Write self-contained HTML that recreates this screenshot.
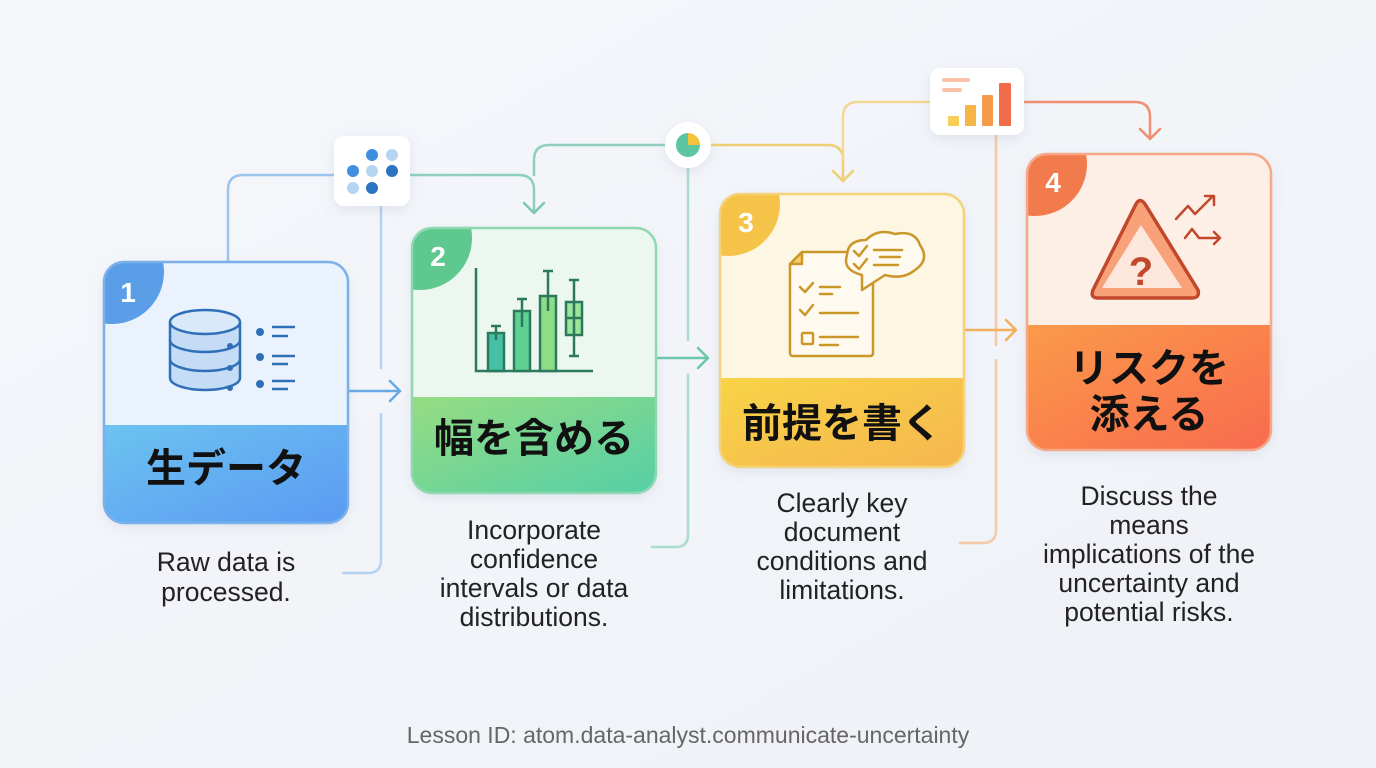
<!DOCTYPE html>
<html><head><meta charset="utf-8"><style>
html,body{margin:0;padding:0;width:1376px;height:768px;overflow:hidden;background:#f3f5f9;}
svg{display:block}
text{font-family:"Liberation Sans","Noto Sans CJK JP",sans-serif;}
</style></head><body>
<svg width="1376" height="768" viewBox="0 0 1376 768" xmlns="http://www.w3.org/2000/svg">
<defs>
<linearGradient id="bg" x1="0" y1="0" x2="1" y2="1"><stop offset="0" stop-color="#f5f7fb"/><stop offset="1" stop-color="#eef1f6"/></linearGradient>
<linearGradient id="g1" x1="0" y1="0" x2="1" y2="1"><stop offset="0" stop-color="#6cc3f0"/><stop offset="1" stop-color="#5a9af3"/></linearGradient>
<linearGradient id="g2" x1="0" y1="0" x2="1" y2="1"><stop offset="0" stop-color="#96dc82"/><stop offset="1" stop-color="#55cfa6"/></linearGradient>
<linearGradient id="g3" x1="0" y1="0" x2="1" y2="1"><stop offset="0" stop-color="#f8d446"/><stop offset="1" stop-color="#f5b650"/></linearGradient>
<linearGradient id="g4" x1="0" y1="0" x2="1" y2="1"><stop offset="0" stop-color="#fb9a4a"/><stop offset="1" stop-color="#f86b4e"/></linearGradient>
<clipPath id="c1"><rect x="104" y="262" width="244" height="261" rx="20"/></clipPath>
<clipPath id="c2"><rect x="412" y="228" width="244" height="265" rx="20"/></clipPath>
<clipPath id="c3"><rect x="720" y="194" width="244" height="273" rx="20"/></clipPath>
<clipPath id="c4"><rect x="1027" y="154" width="244" height="296" rx="20"/></clipPath>
<filter id="sh" x="-20%" y="-20%" width="140%" height="140%"><feDropShadow dx="0" dy="4" stdDeviation="6" flood-color="#8090b0" flood-opacity="0.18"/></filter>
</defs>
<rect width="1376" height="768" fill="url(#bg)"/>

<g fill="none" stroke-width="2.5" stroke-linecap="round" stroke-linejoin="round">
<path d="M228 262 V190 Q228 175 243 175 H334" stroke="#9cc4ec"/>
<path d="M410 175 H519 Q534 175 534 190 V212" stroke="#8fd0bc"/>
<path d="M666 145 H549 Q534 145 534 160 V175" stroke="#8fd0bc"/>
<path d="M524 203 L534 213 L544 203" stroke="#7cc8b0"/>
<path d="M381 206 V368 M381 414 V560 Q381 573 368 573 H343" stroke="#b5d2ef"/>
<path d="M348 391 H400 M390 381 L400 391 L390 401" stroke="#6aa8e6"/>
<path d="M688 167 V340 M688 375 V535 Q688 547 676 547 H652" stroke="#a9dcc9"/>
<path d="M656 358 H708 M698 348 L708 358 L698 368" stroke="#6cc8a8"/>
<path d="M710 145 H828 Q843 145 843 160 V181 M833 171 L843 181 L853 171" stroke="#f0cf74"/>
<path d="M843 160 V117 Q843 102 858 102 H930" stroke="#f3d792"/>
<path d="M1024 102 H1135 Q1150 102 1150 117 V139 M1140 129 L1150 139 L1160 129" stroke="#f08e70"/>
<path d="M996 135 V345 M996 360 V530 Q996 543 983 543 H960" stroke="#f6c9a6"/>
<path d="M964 330 H1016 M1006 320 L1016 330 L1006 340" stroke="#f2b05c"/>
</g>

<g filter="url(#sh)">
<rect x="334" y="136" width="76" height="70" rx="10" fill="#fff"/>
<circle cx="688" cy="145" r="23" fill="#fff"/>
<rect x="930" y="68" width="94" height="67" rx="10" fill="#fff"/>
</g>
<g>
<circle cx="372" cy="155" r="6" fill="#3f8ee0"/><circle cx="392" cy="155" r="6" fill="#b6d5f3"/>
<circle cx="353" cy="171" r="6" fill="#3f8ee0"/><circle cx="372" cy="171" r="6" fill="#b6d5f3"/><circle cx="392" cy="171" r="6" fill="#2e72c2"/>
<circle cx="353" cy="188" r="6" fill="#b6d5f3"/><circle cx="372" cy="188" r="6" fill="#2e72c2"/>
<path d="M688 145 V133 A12 12 0 0 1 700 145 Z" fill="#f4c33c"/>
<path d="M688 145 H700 A12 12 0 1 1 688 133 Z" fill="#5cc6a0"/>
<rect x="942" y="78" width="28" height="4" rx="2" fill="#f7c2a8"/><rect x="942" y="88" width="20" height="4" rx="2" fill="#f7c2a8"/>
<rect x="948" y="116" width="11" height="10" rx="1" fill="#f8cf56"/><rect x="965" y="105" width="11" height="21" rx="1" fill="#f5b548"/>
<rect x="982" y="95" width="11" height="31" rx="1" fill="#f59a4a"/><rect x="999" y="83" width="12" height="43" rx="1" fill="#f16c48"/>
</g>

<!-- card 1 -->
<g filter="url(#sh)"><rect x="104" y="262" width="244" height="261" rx="20" fill="#eaf3fd"/></g>
<g clip-path="url(#c1)">
<rect x="104" y="425" width="244" height="98" fill="url(#g1)"/>
<circle cx="112" cy="272" r="52" fill="#5b9ee8"/>
</g>
<rect x="104" y="262" width="244" height="261" rx="20" fill="none" stroke="#7bb0ea" stroke-width="2.5"/>
<text x="128" y="302" font-size="28" font-weight="bold" fill="#fff" text-anchor="middle">1</text>
<g fill="none" stroke="#2f6fb8" stroke-width="2.5">
<path d="M170 322 V378 A35 12 0 0 0 240 378 V322" fill="#c5dcf6"/>
<ellipse cx="205" cy="322" rx="35" ry="12" fill="#d9e9fa"/>
<path d="M170 340 A35 12 0 0 0 240 340 M170 359 A35 12 0 0 0 240 359"/>
<path d="M272 327 H295 M272 336 H288 M272 356 H295 M272 364 H288 M272 381 H295 M272 389 H288"/>
</g>
<g fill="#2f6fb8"><circle cx="230" cy="346" r="3"/><circle cx="230" cy="368" r="3"/><circle cx="230" cy="388" r="3"/>
<circle cx="260" cy="332" r="4"/><circle cx="260" cy="357" r="4"/><circle cx="260" cy="384" r="4"/></g>
<text x="226" y="482" font-size="40" font-weight="bold" fill="#111" text-anchor="middle">生データ</text>

<!-- card 2 -->
<g filter="url(#sh)"><rect x="412" y="228" width="244" height="265" rx="20" fill="#ecf8ef"/></g>
<g clip-path="url(#c2)">
<rect x="412" y="397" width="244" height="96" fill="url(#g2)"/>
<circle cx="420" cy="238" r="52" fill="#5fc88f"/>
</g>
<rect x="412" y="228" width="244" height="265" rx="20" fill="none" stroke="#8fd8b2" stroke-width="2.5"/>
<text x="438" y="266" font-size="28" font-weight="bold" fill="#fff" text-anchor="middle">2</text>
<g stroke="#2c7a5e" stroke-width="2.5" fill="none">
<path d="M476 268 V371 H593"/>
<rect x="488" y="333" width="16" height="38" fill="#46bfa4"/>
<rect x="514" y="311" width="16" height="60" fill="#5fcf92"/>
<rect x="540" y="296" width="16" height="75" fill="#8fdc86"/>
<rect x="566" y="302" width="16" height="33" fill="#9ee39a"/>
<path d="M496 326 V340 M491 326 H501 M522 299 V327 M517 299 H527 M548 271 V311 M543 271 H553 M574 280 V356 M569 280 H579 M569 356 H579 M566 318 H582"/>
</g>
<text x="534" y="452" font-size="40" font-weight="bold" fill="#111" text-anchor="middle">幅を含める</text>

<!-- card 3 -->
<g filter="url(#sh)"><rect x="720" y="194" width="244" height="273" rx="20" fill="#fdf6e2"/></g>
<g clip-path="url(#c3)">
<rect x="720" y="378" width="244" height="89" fill="url(#g3)"/>
<circle cx="728" cy="204" r="52" fill="#f4c347"/>
</g>
<rect x="720" y="194" width="244" height="273" rx="20" fill="none" stroke="#f3d27a" stroke-width="2.5"/>
<text x="746" y="232" font-size="28" font-weight="bold" fill="#fff" text-anchor="middle">3</text>
<g stroke="#c9972a" stroke-width="2.5" fill="none" stroke-linecap="round" stroke-linejoin="round">
<path d="M802 252 H873 V353 Q873 356 870 356 H793 Q790 356 790 353 V264 Z" fill="#fffaf0"/>
<path d="M790 264 H802 V252 Z" fill="#f7cf6a"/>
<path d="M862 275 Q842 270 847 255 Q848 240 866 240 Q878 228 895 234 Q915 230 920 245 Q930 260 915 270 Q903 280 885 275 L862 290 Z" fill="#fffaf0"/>
<path d="M854 251 L859 256 L867 246 M874 250 H902 M880 257 H900 M854 264 L859 269 L867 259 M874 265 H898"/>
<path d="M800 287 L805 292 L813 283 M820 287 H840 M820 294 H832 M800 310 L805 315 L813 305 M820 313 H858 M820 337 H858 M820 345 H838"/>
<rect x="802" y="333" width="11" height="11" rx="1"/>
</g>
<text x="842" y="437" font-size="40" font-weight="bold" fill="#111" text-anchor="middle">前提を書く</text>

<!-- card 4 -->
<g filter="url(#sh)"><rect x="1027" y="154" width="244" height="296" rx="20" fill="#fdeee6"/></g>
<g clip-path="url(#c4)">
<rect x="1027" y="325" width="244" height="125" fill="url(#g4)"/>
<circle cx="1035" cy="164" r="52" fill="#f27b4e"/>
</g>
<rect x="1027" y="154" width="244" height="296" rx="20" fill="none" stroke="#f6a888" stroke-width="2.5"/>
<text x="1053" y="192" font-size="28" font-weight="bold" fill="#fff" text-anchor="middle">4</text>
<g fill="none" stroke="#c2482c" stroke-width="2.5" stroke-linecap="round" stroke-linejoin="round">
<path d="M1145 204 L1198 290 Q1200 298 1192 298 H1098 Q1090 298 1093 290 L1136 204 Q1140 197 1145 204 Z" fill="#f9a27a" stroke-width="3.5"/>
<path d="M1141 225 L1182 288 H1102 Z" fill="#fde7dc" stroke="none"/>
<path d="M1176 219 L1188 206 L1195 214 L1213 196 M1205 196 H1214 V205 M1185 238 L1192 229 L1199 238 H1220 M1214 232 L1220 238 L1214 244"/>
</g>
<text x="1141" y="285" font-size="40" font-weight="bold" fill="#c2482c" text-anchor="middle">?</text>
<text x="1149" y="382" font-size="40" font-weight="bold" fill="#111" text-anchor="middle">リスクを</text>
<text x="1149" y="428" font-size="40" font-weight="bold" fill="#111" text-anchor="middle">添える</text>

<g font-size="26.5" fill="#222" text-anchor="middle">
<text x="226" y="571">Raw data is</text><text x="226" y="601">processed.</text>
<text x="534" y="539">Incorporate</text><text x="534" y="568">confidence</text><text x="534" y="597">intervals or data</text><text x="534" y="626">distributions.</text>
<text x="842" y="512">Clearly key</text><text x="842" y="541">document</text><text x="842" y="570">conditions and</text><text x="842" y="599">limitations.</text>
<text x="1149" y="505">Discuss the</text><text x="1149" y="534">means</text><text x="1149" y="563">implications of the</text><text x="1149" y="592">uncertainty and</text><text x="1149" y="621">potential risks.</text>
</g>
<text x="688" y="743" font-size="23" fill="#666" text-anchor="middle">Lesson ID: atom.data-analyst.communicate-uncertainty</text>
</svg>
</body></html>
